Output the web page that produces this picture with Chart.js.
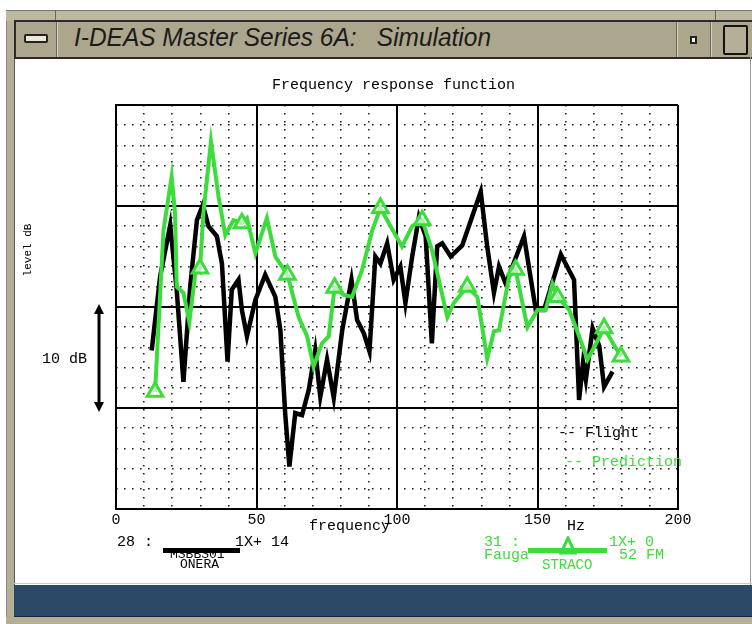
<!DOCTYPE html>
<html>
<head>
<meta charset="utf-8">
<script src="https://cdn.jsdelivr.net/npm/chart.js@4/dist/chart.umd.min.js"></script>
<style>
  body { margin: 0; width: 752px; height: 624px; background: #fff; position: relative; overflow: hidden; }
  .abs { position: absolute; }
  .mono { font-family: "Liberation Mono", "DejaVu Sans Mono", monospace; font-size: 15px; line-height: 16px; white-space: pre; color: #000; }
  .green { color: #3cdc3c; }
  #wrap { position: absolute; left: 0; top: 0; width: 752px; height: 624px; }
</style>
</head>
<body>
<!-- window chrome -->
<div class="abs" style="left:6px;top:10px;width:7px;height:614px;background:#b3ae94;border-left:1px solid #888;border-right:1px solid #555;"></div>
<div class="abs" style="left:6px;top:10px;width:746px;height:10px;background:#bdb8a0;border-top:1px solid #777;"></div>
<div class="abs" style="left:55px;top:10px;width:1px;height:10px;background:#666;"></div>
<div class="abs" style="left:715px;top:10px;width:1px;height:10px;background:#666;"></div>
<div class="abs" style="left:14px;top:20px;width:738px;height:35px;background:#aba68c;border-top:2px solid #2a2a2a;border-bottom:2px solid #2a2a2a;border-left:2px solid #2a2a2a;"></div>
<div class="abs" style="left:24px;top:34px;width:20px;height:5px;background:#ece8d4;border:2px solid #222;border-radius:2px;"></div>
<div class="abs" style="left:56px;top:22px;width:1px;height:35px;background:#666;"></div>
<div class="abs" style="left:57px;top:22px;width:1px;height:35px;background:#d6d2bc;"></div>
<div class="abs" style="left:74px;top:22px;font-family:'Liberation Sans Narrow','Liberation Sans',sans-serif;font-style:italic;font-size:26px;line-height:30px;color:#1b1b1b;white-space:pre;transform:scaleX(0.94);transform-origin:left top;">I-DEAS Master Series 6A:   Simulation</div>
<div class="abs" style="left:676px;top:22px;width:1px;height:35px;background:#666;"></div>
<div class="abs" style="left:677px;top:22px;width:1px;height:35px;background:#d6d2bc;"></div>
<div class="abs" style="left:690px;top:36px;width:3px;height:4px;background:#fff;border:2px solid #222;"></div>
<div class="abs" style="left:710px;top:22px;width:1px;height:35px;background:#666;"></div>
<div class="abs" style="left:711px;top:22px;width:1px;height:35px;background:#d6d2bc;"></div>
<div class="abs" style="left:723px;top:25px;width:21px;height:26px;background:#b4af96;border:2px solid #111;border-radius:2px;"></div>
<div class="abs" style="left:750px;top:57px;width:1px;height:528px;background:#999;"></div>
<div class="abs" style="left:14px;top:583px;width:738px;height:1px;background:#c9c9c9;"></div>
<div class="abs" style="left:14px;top:585px;width:738px;height:31px;background:#2c4a67;border-bottom:1px solid #15263a;"></div>
<div class="abs" style="left:6px;top:617px;width:746px;height:7px;background:#b3ae94;"></div>

<div id="wrap"><canvas id="frf"></canvas></div>

<!-- plot texts -->
<div class="abs mono" style="left:272px;top:78px;">Frequency response function</div>
<div class="abs mono" style="left:-2px;top:244px;width:60px;text-align:center;font-size:11px;line-height:12px;transform:rotate(-90deg);">level dB</div>
<div class="abs mono" style="left:42px;top:352px;">10 dB</div>
<svg class="abs" style="left:90px;top:302px;" width="20" height="112">
  <line x1="9" y1="8" x2="9" y2="104" stroke="#000" stroke-width="3"/>
  <polygon points="9,2 4,12 14,12" fill="#000"/>
  <polygon points="9,110 4,100 14,100" fill="#000"/>
</svg>
<div class="abs mono" style="left:309px;top:519px;">frequency</div>
<div class="abs mono" style="left:567px;top:519px;">Hz</div>
<div class="abs mono" style="left:558px;top:426px;">-- Flight</div>
<div class="abs mono green" style="left:565px;top:455px;">-- Prediction</div>

<div class="abs mono" style="left:117px;top:535px;">28 :</div>
<div class="abs mono" style="left:235px;top:535px;">1X+ 14</div>
<div class="abs mono" style="left:170px;top:547px;font-size:13px;">MSBBS01</div>
<div class="abs mono" style="left:180px;top:557px;font-size:13px;">ONERA</div>
<div class="abs" style="left:163px;top:548px;width:77px;height:5px;background:#000;"></div>

<div class="abs mono green" style="left:484px;top:535px;">31 :</div>
<div class="abs mono green" style="left:609px;top:535px;">1X+ 0</div>
<div class="abs mono green" style="left:484px;top:548px;">Fauga</div>
<div class="abs mono green" style="left:619px;top:548px;">52 FM</div>
<div class="abs mono green" style="left:542px;top:557px;font-size:14px;">STRACO</div>
<div class="abs" style="left:528px;top:548px;width:79px;height:5px;background:#3cdc3c;"></div>
<svg class="abs" style="left:558px;top:536px;" width="20" height="20">
  <polygon points="10,2 3,17 17,17" fill="none" stroke="#3cdc3c" stroke-width="3"/>
</svg>

<script>
// x tick labels (Hz)
const frequencyTicks = [0, 50, 100, 150, 200];

// Flight measurement
const flightFreq = [12.7, 15.7, 19.3, 21.6, 24.0, 26.4, 28.8, 30.9, 32.9, 35.9, 37.7, 39.7, 41.2, 43.6, 44.8, 46.6, 49.6, 53.1, 56.7, 58.5,
  60.2, 61.7, 63.8, 66.2, 68.6, 70.9, 72.7, 75.1, 77.5, 80.5, 83.8, 85.8, 88.2, 90.2, 92.3, 94.1, 96.5, 98.8, 101.2, 103.0,
  105.4, 107.8, 110.2, 112.4, 114.3, 116.1, 119.1, 123.2, 129.8, 132.1, 134.5, 136.3, 138.7, 145.2, 149.4, 152.3, 158.3, 163.0, 164.8, 166.2,
  167.2, 169.6, 172.0, 173.7, 176.7];
const flightLevel = [15.7, 23.0, 28.1, 21.7, 12.6, 22.0, 28.6, 30.1, 28.0, 27.0, 24.3, 14.6, 21.7, 22.7, 19.7, 17.1, 20.7, 23.2, 21.0, 17.7,
  9.5, 4.2, 9.5, 9.3, 11.8, 15.7, 11.1, 14.8, 11.0, 17.7, 22.7, 18.7, 17.4, 15.6, 25.0, 24.3, 26.3, 22.7, 24.0, 20.4,
  25.0, 28.9, 27.0, 16.4, 26.0, 26.3, 25.0, 26.1, 31.4, 26.0, 21.4, 24.0, 22.3, 27.0, 19.7, 19.7, 25.2, 22.7, 10.8, 14.5,
  12.8, 17.9, 16.1, 12.1, 13.6];

// Prediction
const predictionFreq = [13.9, 16.9, 19.8, 21.0, 21.6, 24.0, 26.1, 28.2, 29.9, 31.1, 33.8, 36.5, 38.9, 41.8, 44.8, 46.6, 49.6, 53.7, 56.7, 61.0,
  65.0, 68.0, 70.3, 73.3, 75.7, 77.8, 81.0, 84.0, 87.6, 91.2, 94.1, 97.7, 101.8, 105.4, 109.0, 112.5, 117.9, 120.2, 125.0, 128.6,
  132.1, 134.5, 136.3, 139.9, 142.2, 146.4, 150.0, 152.9, 155.3, 157.1, 161.3, 164.8, 167.8, 173.7, 179.7];
const predictionLevel = [11.6, 27.6, 32.9, 29.3, 22.0, 21.4, 18.5, 23.3, 23.8, 29.3, 36.4, 30.9, 27.1, 28.6, 28.3, 28.8, 25.3, 28.8, 25.0, 23.2,
  19.0, 17.1, 14.1, 16.4, 17.1, 21.9, 21.2, 21.0, 23.7, 27.6, 29.8, 28.0, 26.0, 28.0, 28.6, 25.6, 19.0, 20.4, 22.0, 21.0,
  14.9, 17.6, 17.7, 23.0, 23.7, 18.0, 19.7, 19.7, 22.3, 21.0, 19.7, 17.1, 14.8, 17.9, 15.1];
// prediction points carrying a triangle symbol
const predictionMarkerFreq = [13.9, 29.9, 44.8, 61.0, 77.8, 94.1, 109.0, 125.0, 142.2, 157.1, 173.7, 179.7];

const green = '#3cdc3c';

const flight = flightFreq.map((f, i) => ({ x: f, y: flightLevel[i] }));
const prediction = predictionFreq.map((f, i) => ({ x: f, y: predictionLevel[i] }));
const markers = predictionMarkerFreq.map(f => ({ x: f, y: predictionLevel[predictionFreq.indexOf(f)] }));

const noSize = s => { if (s.isHorizontal()) s.height = 0; else s.width = 0; };

new Chart(document.getElementById('frf'), {
  type: 'line',
  data: {
    datasets: [
      { label: 'Prediction markers', data: markers, showLine: false, pointStyle: 'triangle', pointRadius: 9,
        borderColor: green, borderWidth: 3, backgroundColor: 'rgba(255,255,255,0.6)', order: 0 },
      { label: 'Prediction', data: prediction, borderColor: green, borderWidth: 4, pointRadius: 0, order: 1 },
      { label: 'Flight', data: flight, borderColor: '#000', borderWidth: 4.5, pointRadius: 0, order: 2 }
    ]
  },
  options: {
    responsive: true,
    maintainAspectRatio: false,
    animation: false,
    layout: { padding: { left: 116, right: 74, top: 105, bottom: 95 } },
    plugins: { legend: { display: false }, tooltip: { enabled: false } },
    scales: {
      xm: {
        type: 'linear', position: 'bottom', min: 0, max: 200,
        ticks: { display: false, stepSize: 10 },
        grid: { color: '#222', lineWidth: 1.6, drawTicks: false },
        border: { display: false, dash: [1.6, 6.4] },
        afterFit: noSize
      },
      ym: {
        type: 'linear', position: 'left', min: 0, max: 40,
        ticks: { display: false, stepSize: 2 },
        grid: { color: '#222', lineWidth: 1.6, drawTicks: false },
        border: { display: false, dash: [1.6, 6.4] },
        afterFit: noSize
      },
      x: {
        type: 'linear', position: 'bottom', min: 0, max: 200,
        afterBuildTicks: s => { s.ticks = frequencyTicks.map(v => ({ value: v })); },
        ticks: { color: '#000', padding: 2, maxRotation: 0,
          font: { family: 'Liberation Mono', size: 15 } },
        grid: { color: '#000', lineWidth: 2, drawTicks: false },
        border: { color: '#000', width: 2 },
        afterFit: s => { s.height = 20; }
      },
      y: {
        type: 'linear', position: 'left', min: 0, max: 40,
        ticks: { display: false, stepSize: 10 },
        grid: { color: '#000', lineWidth: 2, drawTicks: false },
        border: { color: '#000', width: 2 },
        afterFit: noSize
      }
    }
  }
});
</script>
</body>
</html>
